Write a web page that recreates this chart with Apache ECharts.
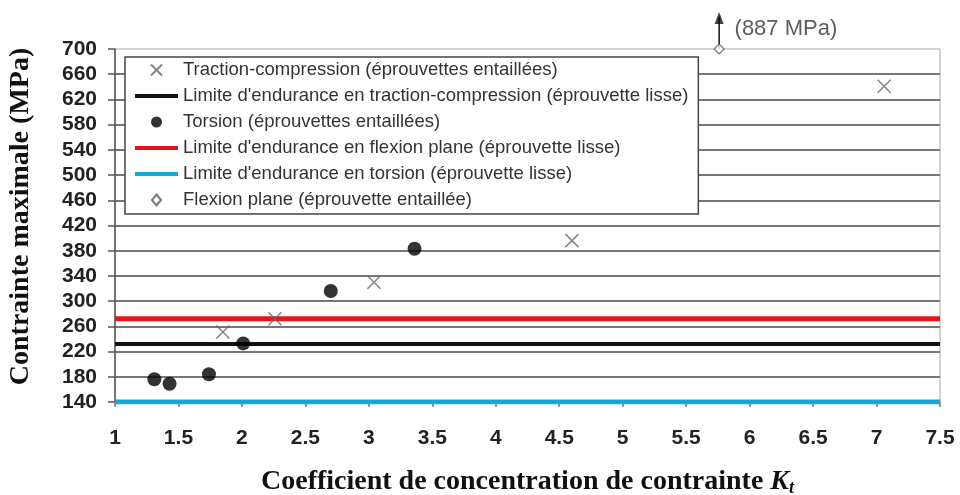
<!DOCTYPE html>
<html>
<head>
<meta charset="utf-8">
<script src="https://cdn.jsdelivr.net/npm/echarts@6/dist/echarts.min.js"></script>
<style>
    html, body { margin: 0; padding: 0; background: #fff; }
    #chart { width: 960px; height: 495px; }
</style>
</head>
<body>
<div id="chart"></div>
<script>
// valeurs
const tractionKt = [1.85, 2.26, 3.04, 4.60, 7.06];
const tractionMPa = [251, 272, 330, 396, 641];
const torsionKt = [1.31, 1.43, 1.74, 2.01, 2.70, 3.36];
const torsionMPa = [176, 169, 184, 233, 316, 383];
const flexionKt = [5.76];
const flexionMPa = [887];
// limites d'endurance (éprouvettes lisses)
const limitTraction = 232;
const limitFlexion = 272;
const limitTorsion = 140;

const seriesNames = [
    'Traction-compression (éprouvettes entaillées)',
    "Limite d'endurance en traction-compression (éprouvette lisse)",
    'Torsion (éprouvettes entaillées)',
    "Limite d'endurance en flexion plane (éprouvette lisse)",
    "Limite d'endurance en torsion (éprouvette lisse)",
    'Flexion plane (éprouvette entaillée)'
];

const xMin = 1, xMax = 7.5, xStep = 0.5;
const yMin = 140, yMax = 700, yStep = 40;
// flèche "hors échelle" au-dessus du point de flexion
const arrowTop = 757;

const chart = echarts.init(document.getElementById('chart'));

function pairs(xs, ys) {
    return xs.map((x, i) => [x, ys[i]]);
}
function hline(v) {
    return [[xMin, v], [xMax, v]];
}

const lineIcon = 'path://M0 0H43V4H0Z';
const crossIcon = 'path://M0 0L10 10M10 0L0 10';

const option = {
    animation: false,
    grid: {
        left: 115,
        right: 20,
        top: 49,
        bottom: 93,
        outerBoundsMode: 'none',
        containLabel: false,
        show: true,
        borderColor: '#a8a8a8',
        borderWidth: 1
    },
    legend: {
        orient: 'vertical',
        left: 125,
        top: 57,
        backgroundColor: '#fff',
        borderColor: '#444',
        borderWidth: 1.5,
        borderRadius: 0,
        padding: [3, 10, 4, 10],
        itemWidth: 43,
        itemHeight: 11,
        itemGap: 6,
        textStyle: {
            fontFamily: 'Liberation Sans',
            fontSize: 18.5,
            lineHeight: 20,
            color: '#333'
        },
        data: [
            { name: seriesNames[0] },
            { name: seriesNames[1], icon: lineIcon },
            { name: seriesNames[2], icon: 'circle' },
            { name: seriesNames[3], icon: lineIcon },
            { name: seriesNames[4], icon: lineIcon },
            { name: seriesNames[5], icon: 'path://M5 0L10 6L5 12L0 6Z' }
        ]
    },
    xAxis: {
        type: 'value',
        min: xMin,
        max: xMax,
        interval: xStep,
        name: 'Coefficient de concentration de contrainte {k|K}{t|t}',
        nameLocation: 'middle',
        nameGap: 65,
        nameTextStyle: {
            fontFamily: 'Liberation Serif',
            fontWeight: 'bold',
            fontSize: 28,
            color: '#111',
            rich: {
                k: { fontFamily: 'Liberation Serif', fontWeight: 'bold', fontStyle: 'italic', fontSize: 28, color: '#111' },
                t: { fontFamily: 'Liberation Serif', fontWeight: 'bold', fontStyle: 'italic', fontSize: 18, color: '#111', padding: [12, 0, 0, 0] }
            }
        },
        axisLine: { show: true, lineStyle: { color: '#888', width: 1 } },
        axisTick: { show: true, length: 5, lineStyle: { color: '#777', width: 1.5 } },
        axisLabel: {
            margin: 26,
            fontFamily: 'Liberation Sans',
            fontWeight: 'bold',
            fontSize: 21,
            color: '#222'
        },
        splitLine: { show: false }
    },
    yAxis: {
        type: 'value',
        min: yMin,
        max: yMax,
        interval: yStep,
        name: 'Contrainte maximale (MPa)',
        nameLocation: 'middle',
        nameGap: 80,
        nameTextStyle: {
            fontFamily: 'Liberation Serif',
            fontWeight: 'bold',
            fontSize: 28,
            color: '#111',
            padding: [0, 0, 0, 18]
        },
        axisLine: { show: true, lineStyle: { color: '#555', width: 1.5 } },
        axisTick: { show: true, length: 7, lineStyle: { color: '#555', width: 1.5 } },
        axisLabel: {
            margin: 18,
            fontFamily: 'Liberation Sans',
            fontWeight: 'bold',
            fontSize: 21,
            color: '#222'
        },
        splitLine: {
            show: true,
            showMaxLine: false,
            lineStyle: { color: '#767676', width: 1.8 }
        }
    },
    series: [
        {
            name: seriesNames[0],
            type: 'scatter',
            symbol: crossIcon,
            symbolSize: 13,
            itemStyle: { color: 'rgba(0,0,0,0)', borderColor: '#666', borderWidth: 1.5 },
            z: 4,
            data: pairs(tractionKt, tractionMPa)
        },
        {
            name: seriesNames[1],
            type: 'line',
            symbol: 'none',
            lineStyle: { color: '#111', width: 4 },
            itemStyle: { color: '#111' },
            z: 3,
            data: hline(limitTraction)
        },
        {
            name: seriesNames[2],
            type: 'scatter',
            symbol: 'circle',
            symbolSize: 14,
            itemStyle: { color: '#000' },
            z: 5,
            data: pairs(torsionKt, torsionMPa)
        },
        {
            name: seriesNames[3],
            type: 'line',
            symbol: 'none',
            lineStyle: { color: '#e8141b', width: 5 },
            itemStyle: { color: '#e8141b' },
            z: 3,
            data: hline(limitFlexion)
        },
        {
            name: seriesNames[4],
            type: 'line',
            symbol: 'none',
            lineStyle: { color: '#16a6de', width: 5 },
            itemStyle: { color: '#16a6de' },
            z: 3,
            data: hline(limitTorsion)
        },
        {
            // tige de la flèche
            name: 'arrow-shaft',
            type: 'line',
            symbol: 'none',
            clip: false,
            silent: true,
            lineStyle: { color: '#111', width: 1.5 },
            z: 5,
            data: [[flexionKt[0], yMax], [flexionKt[0], arrowTop - 6]]
        },
        {
            // pointe de la flèche
            name: 'arrow-head',
            type: 'scatter',
            symbol: 'triangle',
            symbolSize: [9, 12],
            clip: false,
            silent: true,
            itemStyle: { color: '#111' },
            z: 5,
            data: [[flexionKt[0], arrowTop - 8]]
        },
        {
            name: seriesNames[5],
            type: 'scatter',
            symbol: 'diamond',
            symbolSize: 10,
            clip: false,
            itemStyle: { color: '#fff', borderColor: '#555', borderWidth: 1.2 },
            z: 6,
            // point hors échelle : posé sur le bord supérieur
            data: flexionKt.map((x, i) => [x, Math.min(flexionMPa[i], yMax), flexionMPa[i]]),
            label: {
                show: true,
                position: [21, -14],
                align: 'left',
                verticalAlign: 'middle',
                fontFamily: 'Liberation Sans',
                fontSize: 22,
                color: '#333',
                formatter: p => '(' + p.value[2] + ' MPa)'
            }
        }
    ]
};

chart.setOption(option);
</script>
</body>
</html>
